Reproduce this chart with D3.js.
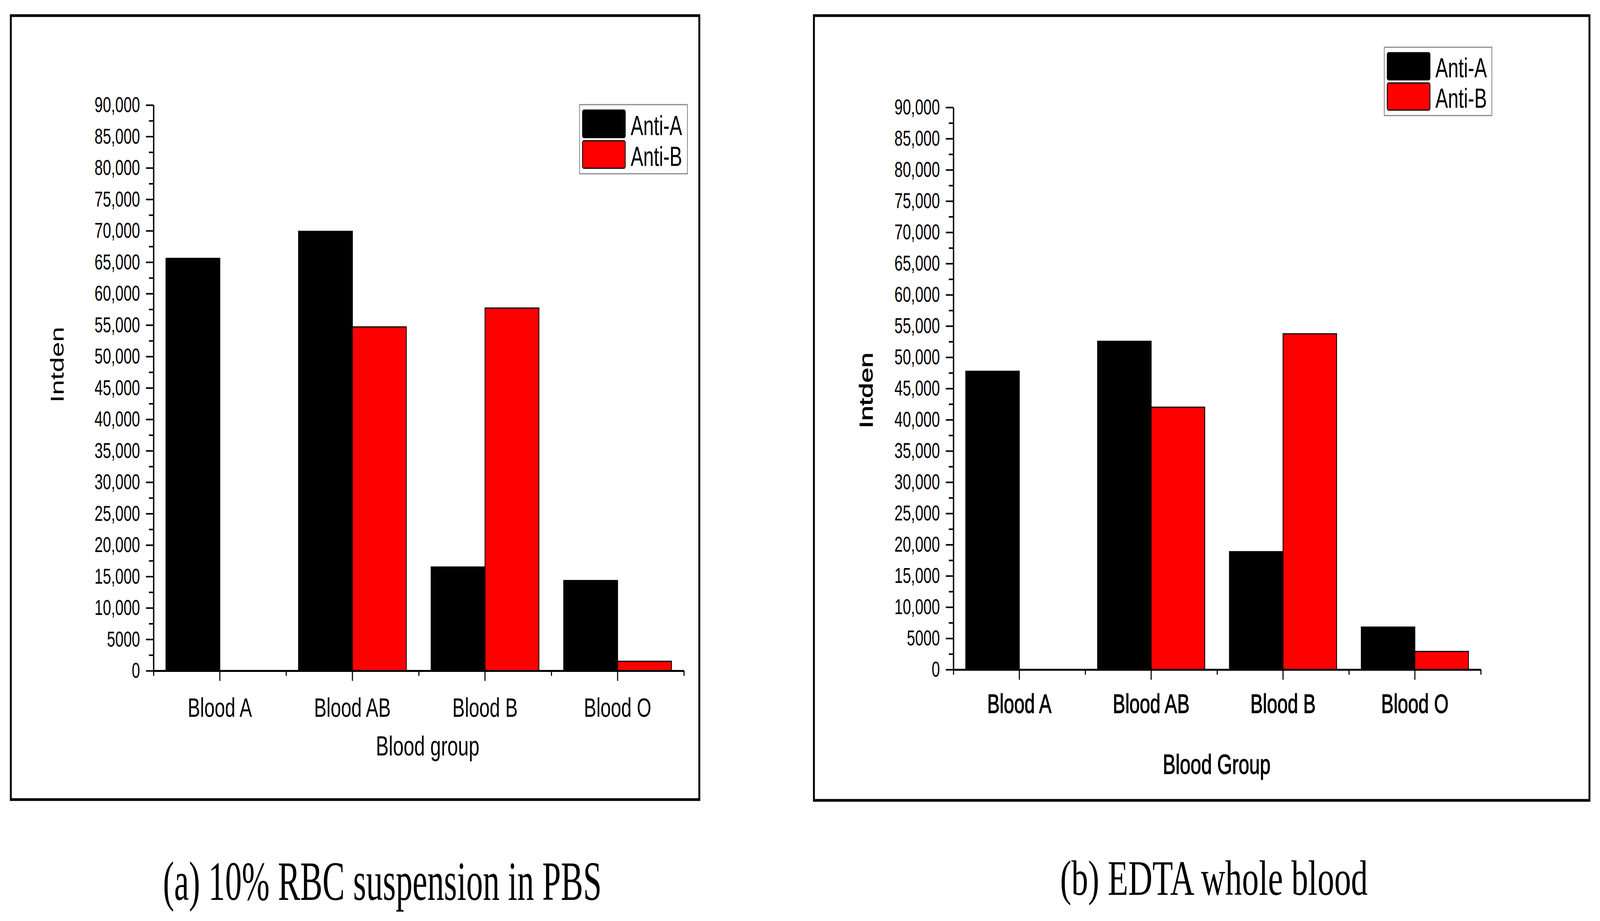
<!DOCTYPE html>
<html>
<head>
<meta charset="utf-8">
<script src="https://cdn.jsdelivr.net/npm/d3@7"></script>
<style>
  html, body { margin: 0; padding: 0; background: #fff; overflow: hidden; }
  svg { display: block; width: 100vw; height: 100vh; }
  text { font-family: 'Liberation Sans', Arial, sans-serif; fill: #000; }
  .caption { font-family: 'Liberation Serif', 'Times New Roman', serif; }
</style>
</head>
<body>
<div id="chart"></div>
<script>
// categories and series
const categories = ['Blood A', 'Blood AB', 'Blood B', 'Blood O']
const seriesNames = ['Anti-A', 'Anti-B']
const seriesColors = ['#000000', '#ff0000']
// y tick values (labels: 0, 5000, 10,000 ... 90,000)
const yTicks = [0, 5000, 10000, 15000, 20000, 25000, 30000, 35000, 40000, 45000,
  50000, 55000, 60000, 65000, 70000, 75000, 80000, 85000, 90000]
const yMinorTicks = [2500, 7500, 12500, 17500, 22500, 27500, 32500, 37500, 42500,
  47500, 52500, 57500, 62500, 67500, 72500, 77500, 82500, 87500]

// (a) 10% RBC suspension in PBS
const pbsAntiA = [65600, 69900, 16500, 14350]
const pbsAntiB = [0, 54700, 57700, 1500]
// (b) EDTA whole blood
const edtaAntiA = [47750, 52550, 18870, 6800]
const edtaAntiB = [0, 42000, 53750, 2900]

const W = 5919
const H = 2359

// drawn in a 5919x2359 coordinate box, stretched to fill the window
const svg = d3.select('#chart')
  .append('svg')
    .attr('viewBox', `0 0 ${W} ${H}`)
    .attr('preserveAspectRatio', 'none')

const fmt = d => d < 10000 ? String(d) : d3.format(',')(d)

function drawPanel (cfg) {
  const g = svg.append('g')
  // outer frame
  const [fx0, fy0, fx1, fy1] = cfg.frame
  g.append('rect')
    .attr('x', fx0).attr('y', fy0)
    .attr('width', fx1 - fx0).attr('height', fy1 - fy0)
    .attr('fill', 'none').attr('stroke', '#000').attr('stroke-width', 7)

  const y = d3.scaleLinear().domain([0, 90000]).range([cfg.plot.y1, cfg.plot.y0])
  const x = d3.scaleBand().domain(categories).range([cfg.plot.x0, cfg.plot.x1])
  const xIdx = d3.scaleLinear().domain([0, categories.length]).range([cfg.plot.x0, cfg.plot.x1])
  const xs = d3.scaleBand().domain(seriesNames).range([0, x.bandwidth()]).paddingOuter(0.23)

  const rows = categories.map((c, i) => ({ cat: c, values: [cfg.a[i], cfg.b[i]] }))

  // bars
  const grp = g.selectAll('.grp').data(rows).enter().append('g')
    .attr('transform', d => `translate(${x(d.cat)},0)`)
  grp.selectAll('rect')
    .data(d => d.values.map((v, k) => ({ key: seriesNames[k], v, k })).filter(d => d.v > 0))
    .enter().append('rect')
      .attr('x', d => xs(d.key))
      .attr('width', xs.bandwidth())
      .attr('y', d => y(d.v))
      .attr('height', d => y(0) - y(d.v))
      .attr('fill', d => seriesColors[d.k])
      .attr('stroke', '#000')
      .attr('stroke-width', 3)

  // y axis: major + minor ticks
  const yAxis = g.append('g')
    .attr('transform', `translate(${cfg.plot.x0},0)`)
    .call(d3.axisLeft(y).tickValues(yTicks).tickFormat(fmt).tickSize(28).tickSizeOuter(0).tickPadding(22))
  yAxis.select('.domain').attr('stroke-width', 5)
  yAxis.selectAll('.tick line').attr('stroke-width', 4)
  yAxis.selectAll('text').attr('font-size', 55).attr('font-family', null)
  const yMinor = g.append('g')
    .attr('transform', `translate(${cfg.plot.x0},0)`)
    .call(d3.axisLeft(y).tickValues(yMinorTicks).tickFormat('').tickSize(17).tickSizeOuter(0))
  yMinor.select('.domain').remove()
  yMinor.selectAll('.tick line').attr('stroke-width', 4)

  // x axis: category ticks + boundary ticks
  const xAxis = g.append('g')
    .attr('transform', `translate(0,${cfg.plot.y1})`)
    .call(d3.axisBottom(x).tickSize(26).tickSizeOuter(0))
  xAxis.select('.domain').attr('stroke-width', 5)
  xAxis.selectAll('.tick line').attr('stroke-width', 4)
  xAxis.selectAll('text')
    .attr('font-size', 69)
    .attr('font-family', null)
    .attr('dy', null)
    .attr('y', cfg.xTickBase - cfg.plot.y1)
    .attr('stroke', '#000').attr('stroke-width', cfg.textStroke)
  const xMinor = g.append('g')
    .attr('transform', `translate(0,${cfg.plot.y1})`)
    .call(d3.axisBottom(xIdx).tickValues(d3.range(categories.length + 1)).tickFormat('').tickSize(13).tickSizeOuter(0))
  xMinor.select('.domain').remove()
  xMinor.selectAll('.tick line').attr('stroke-width', 4)

  // axis titles
  g.append('text')
    .attr('transform', `translate(${cfg.yTitle[0]},${cfg.yTitle[1]}) rotate(-90)`)
    .attr('text-anchor', 'middle')
    .attr('font-size', 70)
    .attr('stroke', '#000').attr('stroke-width', cfg.textStroke)
    .text('Intden')
  g.append('text')
    .attr('x', cfg.xTitle[0]).attr('y', cfg.xTitle[1])
    .attr('text-anchor', 'middle')
    .attr('font-size', 71)
    .attr('stroke', '#000').attr('stroke-width', cfg.textStroke)
    .text(cfg.xTitleText)

  // legend
  const [lx0, ly0, lx1, ly1] = cfg.legend
  g.append('rect')
    .attr('x', lx0).attr('y', ly0)
    .attr('width', lx1 - lx0).attr('height', ly1 - ly0)
    .attr('fill', '#fff').attr('stroke', '#8a8a8a').attr('stroke-width', 3)
  const rowH = (ly1 - ly0 - 24) / 2
  const item = g.selectAll('.leg').data(seriesNames).enter().append('g')
    .attr('transform', (d, i) => `translate(${lx0 + 11},${ly0 + 14 + i * (rowH + 2)})`)
  item.append('rect')
    .attr('width', 158).attr('height', rowH - 6)
    .attr('rx', 5)
    .attr('fill', (d, i) => seriesColors[i])
    .attr('stroke', '#000').attr('stroke-width', 3)
  item.append('text')
    .attr('x', 178).attr('y', rowH - 12)
    .attr('font-size', 70)
    .text(d => d)

  // caption
  g.append('text')
    .attr('class', 'caption')
    .attr('x', cfg.caption.x).attr('y', cfg.caption.y)
    .attr('font-size', cfg.caption.size)
    .attr('textLength', cfg.caption.len)
    .attr('lengthAdjust', 'spacingAndGlyphs')
    .text(cfg.caption.text)
}

drawPanel({
  frame: [40, 40, 2587, 2048],
  plot: { x0: 568, x1: 2530, y0: 269, y1: 1718 },
  a: pbsAntiA,
  b: pbsAntiB,
  xTickBase: 1836,
  yTitle: [236, 934],
  xTitle: [1582, 1935],
  xTitleText: 'Blood group',
  legend: [2144, 268, 2543, 445],
  textStroke: 0,
  caption: { text: '(a) 10% RBC suspension in PBS', x: 603, y: 2305, size: 142, len: 1623 }
})

drawPanel({
  frame: [3011, 40, 5880, 2050],
  plot: { x0: 3527, x1: 5478, y0: 275, y1: 1715 },
  a: edtaAntiA,
  b: edtaAntiB,
  xTickBase: 1826,
  yTitle: [3228, 1000],
  xTitle: [4501, 1982],
  xTitleText: 'Blood Group',
  legend: [5121, 121, 5519, 296],
  textStroke: 1.5,
  caption: { text: '(b) EDTA whole blood', x: 3922, y: 2292, size: 128, len: 1138 }
})
</script>
</body>
</html>
